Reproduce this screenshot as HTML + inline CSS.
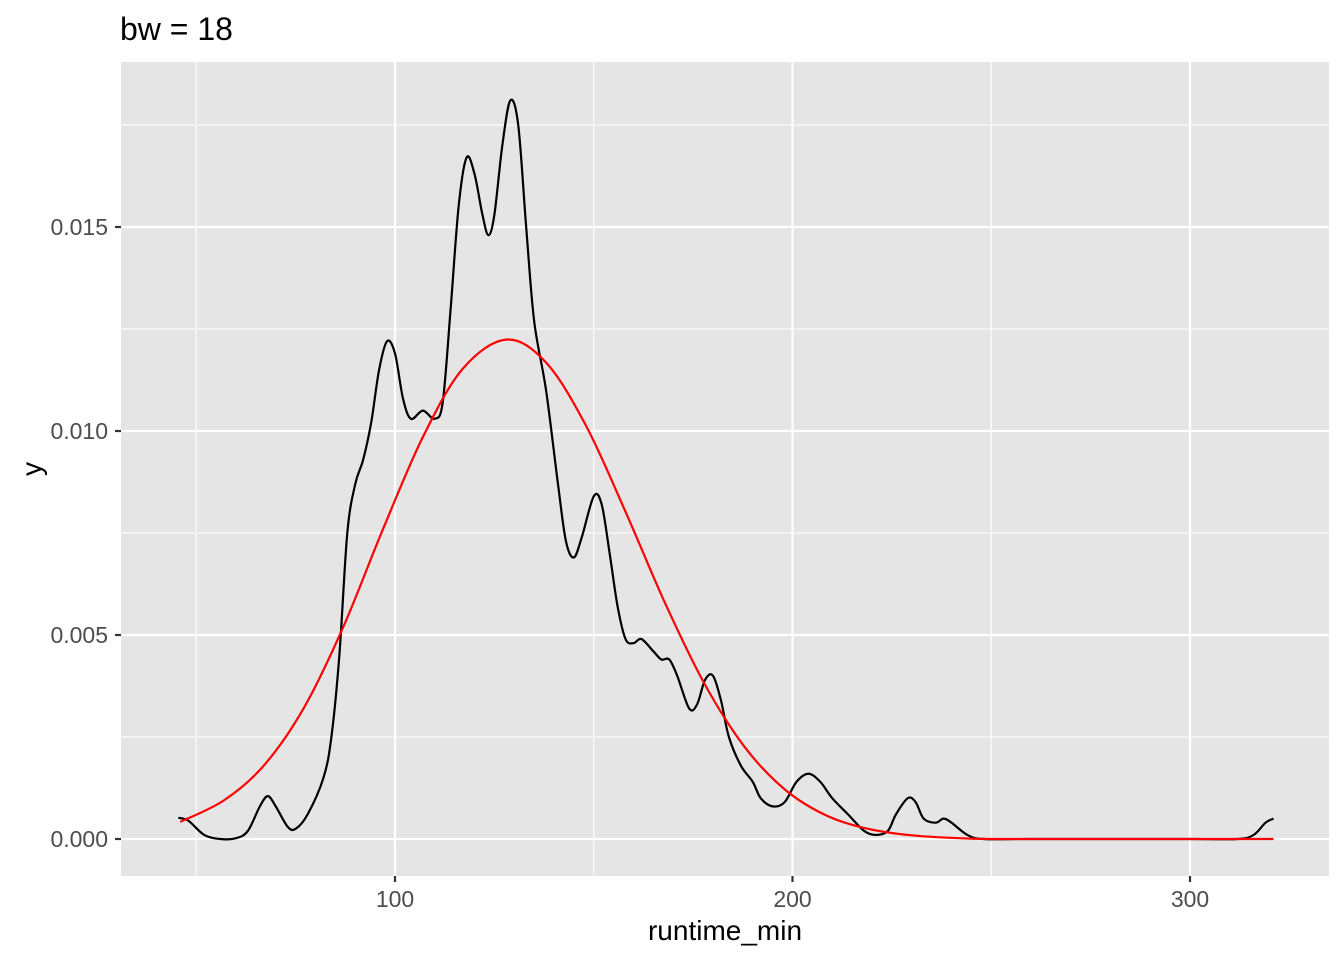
<!DOCTYPE html>
<html><head><meta charset="utf-8"><style>
html,body{margin:0;padding:0;background:#fff;}
svg{display:block;font-family:"Liberation Sans",Arial,sans-serif;}
</style></head><body>
<svg id="chart" width="1344" height="960">
<text x="120" y="40" font-size="32" fill="#000">bw = 18</text>
<rect x="121" y="62" width="1208" height="814" fill="#e5e5e5"/>
<g id="grid"></g>
<g id="axes"></g>
<g id="series"></g>
<text x="725" y="940" font-size="28" text-anchor="middle" fill="#000">runtime_min</text>
<text x="0" y="0" font-size="28" text-anchor="middle" fill="#000" transform="translate(41,469) rotate(-90)">y</text>
</svg>
<script>
const xMajor=[100,200,300];
const xMinor=[50,150,250];
const yMajor=[0,0.005,0.010,0.015];
const yMajorLabels=["0.000","0.005","0.010","0.015"];
const yMinor=[0.0025,0.0075,0.0125,0.0175];
const kdeX=[45.5,48,52,56,60,63,66,68,70,73,75,78,82,84,86,88,90,92,94,96,98,100,102,104,107,110,112,114,116,118,120,122,123.5,125,127,129,131,133,135,138,141,143,145,147,150,152,154,156,158,160,162,165,167,169,171,174,176,178,180,182,184,187,190,192,195,198,201,204,207,210,214,218,221,224,226,229,231,233,236,238,240,244,248,260,300,312,316,319,321];
const kdeY=[0.00052,0.00045,0.0001,0.0,0.00002,0.0002,0.0008,0.00105,0.0008,0.0003,0.00025,0.0006,0.0015,0.0025,0.0045,0.0075,0.0087,0.0093,0.0102,0.0115,0.0122,0.0119,0.0108,0.0103,0.0105,0.0103,0.0107,0.0130,0.0155,0.0167,0.0163,0.0153,0.0148,0.0153,0.0170,0.0181,0.0175,0.0150,0.0127,0.0110,0.0087,0.0073,0.0069,0.0074,0.0084,0.0082,0.0070,0.0057,0.0049,0.0048,0.0049,0.0046,0.0044,0.0044,0.0040,0.0032,0.0033,0.0039,0.0040,0.0034,0.0025,0.0018,0.0014,0.0010,0.0008,0.0009,0.0014,0.0016,0.0014,0.0010,0.0006,0.0002,0.0001,0.0002,0.0006,0.0010,0.0009,0.0005,0.0004,0.0005,0.0004,0.0001,0.0,0.0,0.0,0.0,0.0001,0.0004,0.0005];
const normX=[46,57,67,77,87,97,107,117,128,138,148,158,168,178,188,198,208,218,230,245,260,290,321];
const normY=[0.00042,0.00095,0.00180,0.0032,0.0052,0.0076,0.00985,0.01152,0.01224,0.01168,0.01014,0.00802,0.00577,0.00378,0.00225,0.00122,0.00060,0.00027,0.00009,0.00001,0,0,0];

const NS="http://www.w3.org/2000/svg";
const sx=v=>395+(v-100)*3.975;
const sy=v=>839-v*40800;
const L=121,R=1329,T=62,B=876;
function mk(tag,attrs,parent){const e=document.createElementNS(NS,tag);for(const k in attrs)e.setAttribute(k,attrs[k]);parent.appendChild(e);return e;}
const grid=document.getElementById('grid'),axes=document.getElementById('axes'),series=document.getElementById('series');
xMinor.forEach(v=>{const e=mk('line',{x1:sx(v),x2:sx(v),y1:T,y2:B,stroke:'#fff','stroke-width':1.1},grid);

});
yMinor.forEach(v=>{const e=mk('line',{x1:L,x2:R,y1:sy(v),y2:sy(v),stroke:'#fff','stroke-width':1.1},grid);

});
xMajor.forEach(v=>{const e=mk('line',{x1:sx(v),x2:sx(v),y1:T,y2:B,stroke:'#fff','stroke-width':2.2},grid);


const t=mk('line',{x1:sx(v),x2:sx(v),y1:B,y2:B+6,stroke:'#333','stroke-width':2.2},axes);


const l=mk('text',{x:sx(v),y:907,'font-size':23,'text-anchor':'middle',fill:'#4d4d4d'},axes);l.textContent=v;

});
yMajor.forEach((v,i)=>{const e=mk('line',{x1:L,x2:R,y1:sy(v),y2:sy(v),stroke:'#fff','stroke-width':2.2},grid);


const t=mk('line',{x1:L-6,x2:L,y1:sy(v),y2:sy(v),stroke:'#333','stroke-width':2.2},axes);


const l=mk('text',{x:L-13,y:sy(v)+8,'font-size':23,'text-anchor':'end',fill:'#4d4d4d'},axes);l.textContent=yMajorLabels[i];

});
function path(xs,ys){const p=xs.map((x,i)=>[sx(x),sy(ys[i])]);let d='M'+p[0][0]+','+p[0][1];
for(let i=0;i<p.length-1;i++){const p0=p[i-1]||p[i],p1=p[i],p2=p[i+1],p3=p[i+2]||p2;
d+=' C'+(p1[0]+(p2[0]-p0[0])/6)+','+(p1[1]+(p2[1]-p0[1])/6)+' '+(p2[0]-(p3[0]-p1[0])/6)+','+(p2[1]-(p3[1]-p1[1])/6)+' '+p2[0]+','+p2[1];}return d;}
const k=mk('path',{d:path(kdeX,kdeY),fill:'none',stroke:'#000','stroke-width':2.2},series);


const n=mk('path',{d:path(normX,normY),fill:'none',stroke:'#ff0000','stroke-width':2.2},series);


</script>
</body></html>
